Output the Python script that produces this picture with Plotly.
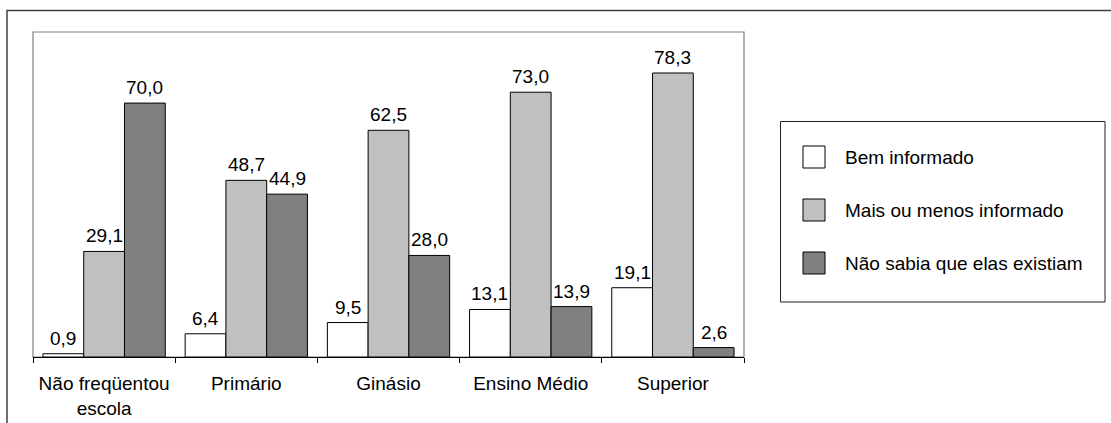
import plotly.graph_objects as go

# categorias de escolaridade
categorias = ["Não freqüentou<br>escola", "Primário", "Ginásio", "Ensino Médio", "Superior"]

bem_informado = [0.9, 6.4, 9.5, 13.1, 19.1]
mais_ou_menos = [29.1, 48.7, 62.5, 73.0, 78.3]
nao_sabia = [70.0, 44.9, 28.0, 13.9, 2.6]

series_nomes = ["Bem informado", "Mais ou menos informado", "Não sabia que elas existiam"]
cores = ["#FFFFFF", "#C0C0C0", "#808080"]

FONTE = "Liberation Sans, Arial, sans-serif"
W, H = 1111, 423
L, R, T, B = 33, 367, 32, 66
BARGAP = 0.14


def fmt(v):
    return ("%.1f" % v).replace(".", ",")


# pixel -> paper helpers (plot area is 33..744 x 32..357)
def px(x):
    return (x - L) / (W - L - R)


def py(y):
    return (H - B - y) / (H - T - B)


largura_barra = (W - L - R) / len(categorias) * (1 - BARGAP) / 3

fig = go.Figure()
annotations = []
for i, (nome, vals, cor) in enumerate(zip(series_nomes, [bem_informado, mais_ou_menos, nao_sabia], cores)):
    fig.add_trace(go.Bar(
        x=categorias, y=vals, name=nome,
        marker=dict(color=cor, line=dict(color="black", width=1)),
        showlegend=False, hoverinfo="skip",
    ))
    # rótulos de valor acima das barras
    for c, v in zip(categorias, vals):
        annotations.append(dict(x=c, y=v, xref="x", yref="y", text=fmt(v),
                                showarrow=False, yanchor="bottom", xanchor="center",
                                xshift=(i - 1) * largura_barra, yshift=3,
                                font=dict(family=FONTE, size=19, color="black")))

shapes = []
# moldura externa
shapes.append(dict(type="rect", xref="paper", yref="paper",
                   x0=px(7), x1=px(1120), y0=py(10.5), y1=py(440),
                   line=dict(color="#404040", width=1.5), layer="below"))
# área do gráfico (cinza)
shapes.append(dict(type="rect", xref="paper", yref="paper",
                   x0=0, x1=1, y0=0, y1=1,
                   line=dict(color="#808080", width=1.2), layer="below"))
# caixa da legenda
shapes.append(dict(type="rect", xref="paper", yref="paper",
                   x0=px(780.5), x1=px(1105), y0=py(121.5), y1=py(302),
                   line=dict(color="#202020", width=1), layer="below"))

for i, (nome, cor) in enumerate(zip(series_nomes, cores)):
    yc = [157, 210, 263][i]
    shapes.append(dict(type="rect", xref="paper", yref="paper",
                       x0=px(803), x1=px(825), y0=py(yc - 11), y1=py(yc + 11),
                       fillcolor=cor, line=dict(color="black", width=1)))
    annotations.append(dict(x=px(843), y=py(yc), xref="paper", yref="paper",
                            text=nome, showarrow=False, xanchor="left", yanchor="middle",
                            font=dict(family=FONTE, size=19, color="black")))

fig.update_layout(
    width=W, height=H,
    margin=dict(l=L, r=R, t=T, b=B),
    paper_bgcolor="white", plot_bgcolor="white",
    barmode="group", bargap=BARGAP, bargroupgap=0,
    shapes=shapes, annotations=annotations,
    font=dict(family=FONTE, size=19, color="black"),
    xaxis=dict(showline=True, linecolor="black", linewidth=1,
               ticks="outside", tickson="boundaries", ticklen=5, tickcolor="black",
               ticklabelstandoff=9, automargin=False,
               showgrid=False, tickfont=dict(family=FONTE, size=19, color="black")),
    yaxis=dict(range=[0, 89.6], showticklabels=False, showgrid=False,
               zeroline=False, showline=False, ticks="", automargin=False),
)

fig.write_html("out.html", config={"displayModeBar": False},
               post_script="document.body.style.margin='0px';")
